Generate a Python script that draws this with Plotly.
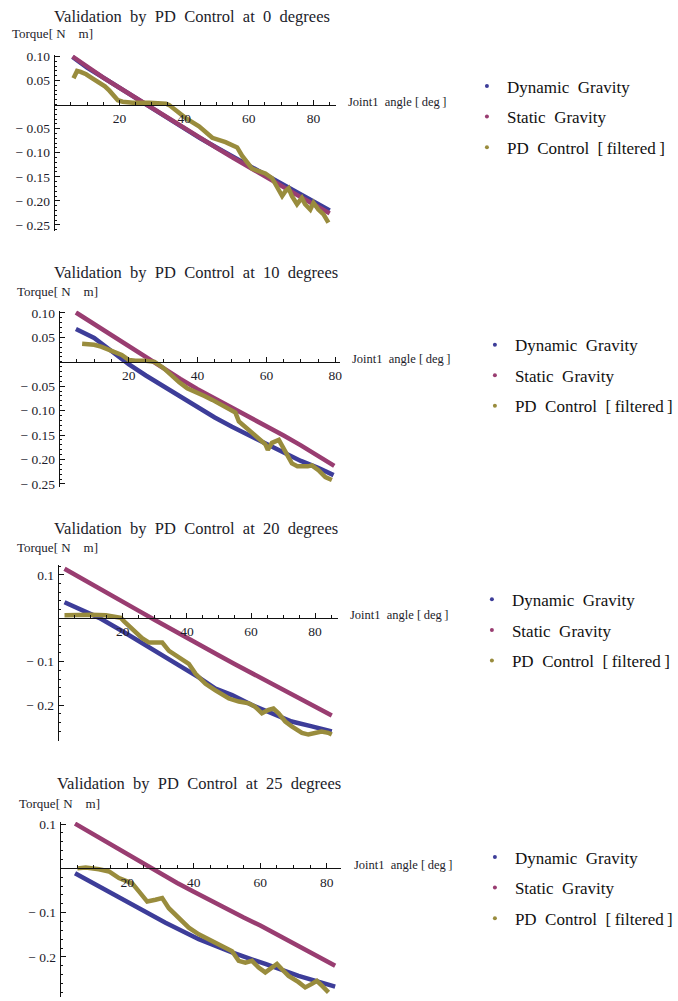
import plotly.graph_objects as go

# ---------------- data ----------------
names = ["Dynamic  Gravity", "Static  Gravity", "PD  Control  [\u2009filtered\u2009]"]
titles = ["Validation  by  PD  Control  at  0  degrees",
          "Validation  by  PD  Control  at  10  degrees",
          "Validation  by  PD  Control  at  20  degrees",
          "Validation  by  PD  Control  at  25  degrees"]

x_ticks = [20, 40, 60, 80]
x_ticktext = ["20", "40", "60", "80"]
y_ticks_a = [0.10, 0.05, -0.05, -0.10, -0.15, -0.20, -0.25]
y_ticktext_a = ["0.10", "0.05", "\u2212\u00a00.05", "\u2212\u00a00.10", "\u2212\u00a00.15", "\u2212\u00a00.20", "\u2212\u00a00.25"]
y_ticks_b = [0.1, -0.1, -0.2]
y_ticktext_b = ["0.1", "\u2212\u00a00.1", "\u2212\u00a00.2"]

# Panel 1 (0 degrees)
x1_dyn = [5.5, 10, 15, 20, 25, 30, 35, 40, 45, 50, 55, 60, 65, 70, 75, 80, 85]
y1_dyn = [0.099, 0.077, 0.056, 0.035, 0.013, -0.008, -0.029, -0.050, -0.070, -0.089, -0.108, -0.127, -0.146, -0.165, -0.183, -0.201, -0.220]
x1_sta = [5.5, 10, 15, 20, 25, 30, 35, 40, 45, 50, 55, 60, 65, 70, 75, 80, 85]
y1_sta = [0.100, 0.078, 0.056, 0.035, 0.014, -0.008, -0.028, -0.049, -0.070, -0.090, -0.110, -0.130, -0.149, -0.169, -0.188, -0.207, -0.226]
x1_pd = [5.8, 6.9, 8, 9.7, 11.5, 13.8, 15.5, 16.9, 18.2, 19.5, 21, 24.1, 29.2, 32, 34.4, 35.4, 38, 40.5, 44.6, 48.7,
         52.8, 56.4, 57.9, 59.5, 61, 63, 65.1, 67.2, 68.7, 70.3, 71.3, 72.3, 73.3, 74.9, 76.4, 77.4, 79, 80, 81.5, 83.1, 84.6]
y1_pd = [0.055, 0.070, 0.068, 0.063, 0.055, 0.046, 0.038, 0.029, 0.018, 0.009, 0.006, 0.004, 0.004, 0.003, 0.002, -0.001, -0.015, -0.028, -0.045, -0.069,
         -0.078, -0.089, -0.106, -0.120, -0.133, -0.138, -0.143, -0.153, -0.170, -0.190, -0.180, -0.174, -0.190, -0.207, -0.194, -0.207, -0.218, -0.204, -0.218, -0.228, -0.245]

# Panel 2 (10 degrees)
x2_dyn = [4.7, 7.5, 10, 15, 20, 25, 30, 35, 40, 45, 50, 55, 60, 65, 70, 75, 79.5]
y2_dyn = [0.067, 0.058, 0.049, 0.022, -0.005, -0.028, -0.050, -0.072, -0.094, -0.114, -0.133, -0.150, -0.167, -0.186, -0.203, -0.217, -0.232]
x2_sta = [4.7, 10, 15, 20, 25, 30, 35, 40, 45, 50, 55, 60, 65, 70, 75, 79.7]
y2_sta = [0.101, 0.077, 0.055, 0.034, 0.011, -0.012, -0.035, -0.056, -0.075, -0.093, -0.111, -0.131, -0.151, -0.171, -0.192, -0.213]
x2_pd = [6.5, 8, 10, 12, 14, 16, 18, 20, 22, 25, 27.5, 30, 32, 34.7, 37, 40, 42, 44.3, 47, 49, 51, 52, 53, 55, 57.5,
         59.7, 60.4, 61.6, 63.6, 65.5, 67.4, 69, 70.3, 72, 73.2, 75.1, 77.1, 78, 79]
y2_pd = [0.037, 0.036, 0.035, 0.031, 0.025, 0.020, 0.014, 0.004, 0.002, 0.002, 0.000, -0.012, -0.025, -0.042, -0.054, -0.065, -0.070, -0.078, -0.088, -0.096, -0.104, -0.122, -0.128, -0.142, -0.155,
         -0.169, -0.180, -0.166, -0.160, -0.183, -0.208, -0.214, -0.215, -0.214, -0.212, -0.222, -0.236, -0.238, -0.242]

# Panel 3 (20 degrees)
x3_dyn = [1.8, 8.5, 12.6, 19.9, 28.2, 36.5, 43.7, 48.9, 54.1, 60.3, 66.5, 72.7, 79, 85.2]
y3_dyn = [0.037, 0.016, 0.001, -0.030, -0.067, -0.102, -0.136, -0.162, -0.177, -0.200, -0.219, -0.238, -0.249, -0.261]
x3_sta = [1.8, 5, 10, 15, 20, 25, 30, 35, 40, 45, 50, 55, 60, 65, 70, 75, 80, 85.2]
y3_sta = [0.114, 0.101, 0.080, 0.059, 0.038, 0.017, -0.004, -0.025, -0.045, -0.066, -0.086, -0.106, -0.126, -0.146, -0.166, -0.185, -0.205, -0.224]
x3_pd = [1.8, 6.4, 10, 14.7, 19.4, 20.4, 22, 24, 26, 28.2, 30, 32.3, 34.4, 37.5, 40.6, 42.7, 45.8, 48.9, 51, 53.1, 56.2, 59.3,
         61.3, 63.4, 65.5, 67, 68.6, 70.7, 72.7, 75.9, 77.9, 80, 82, 84.1, 85.2]
y3_pd = [0.007, 0.008, 0.008, 0.007, 0.001, -0.007, -0.018, -0.033, -0.046, -0.056, -0.056, -0.056, -0.075, -0.090, -0.105, -0.128, -0.151, -0.166, -0.176, -0.185, -0.192, -0.196,
         -0.204, -0.219, -0.211, -0.208, -0.219, -0.238, -0.249, -0.264, -0.268, -0.264, -0.261, -0.264, -0.268]

# Panel 4 (25 degrees)
x4_dyn = [4.3, 11.5, 21.5, 31.5, 41.5, 51.5, 61.5, 71.5, 82.5]
y4_dyn = [-0.011, -0.041, -0.082, -0.123, -0.160, -0.190, -0.216, -0.243, -0.267]
x4_sta = [4.3, 10, 15, 20, 25, 30, 35, 40, 45, 50, 55, 60, 65, 70, 75, 80, 82.5]
y4_sta = [0.101, 0.076, 0.053, 0.031, 0.009, -0.012, -0.033, -0.053, -0.073, -0.092, -0.111, -0.129, -0.149, -0.169, -0.189, -0.209, -0.220]
x4_pd = [5, 7.5, 11.5, 14.5, 17.5, 21.5, 23.5, 26, 28.5, 30.5, 32.5, 35.5, 38.5, 41.5, 43.5, 46.5, 49.5, 51.5, 53.5, 55.5, 57.5,
         59.5, 61.5, 63.5, 65, 66.5, 68.5, 71.5, 73.5, 75.5, 77, 78.5, 80.5]
y4_pd = [0.000, 0.002, -0.002, -0.007, -0.022, -0.034, -0.052, -0.075, -0.071, -0.067, -0.090, -0.112, -0.134, -0.149, -0.157, -0.168, -0.179, -0.187, -0.209, -0.213, -0.209,
         -0.224, -0.235, -0.224, -0.216, -0.228, -0.243, -0.257, -0.269, -0.261, -0.254, -0.265, -0.280]

series = [
    [(x1_dyn, y1_dyn), (x1_sta, y1_sta), (x1_pd, y1_pd)],
    [(x2_dyn, y2_dyn), (x2_sta, y2_sta), (x2_pd, y2_pd)],
    [(x3_dyn, y3_dyn), (x3_sta, y3_sta), (x3_pd, y3_pd)],
    [(x4_dyn, y4_dyn), (x4_sta, y4_sta), (x4_pd, y4_pd)],
]

# ---------------- styling / geometry ----------------
W, H = 678, 1001
colors = ["#3D3D99", "#993D71", "#998C3D"]
FONT = "Liberation Serif, Times New Roman, serif"
TXT = "#1c1c2a"

geo = [
    dict(px0=55, px1=337, xmax=86.8, pyt=50, pyb=228, yr=(-0.2625, 0.104), yt=0, ydt=0.01,
         tcx=192.5, tcy=12, ylx=10, yly=29, xlx=348, xldy=-3, lgx=469, lgy=64),
    dict(px0=60, px1=342, xmax=81.5, pyt=308.3, pyb=486.7, yr=(-0.257, 0.105), yt=0, ydt=0.01,
         tcx=196.5, tcy=270, ylx=15, yly=289, xlx=352, xldy=-3, lgx=477, lgy=325),
    dict(px0=59, px1=340, xmax=87.3, pyt=565, pyb=742.3, yr=(-0.282, 0.123), yt=1, ydt=0.02,
         tcx=196.5, tcy=528, ylx=15, yly=547, xlx=350, xldy=-3, lgx=474, lgy=582),
    dict(px0=61, px1=343, xmax=84.4, pyt=824.3, pyb=1001, yr=(-0.2906, 0.105), yt=1, ydt=0.02,
         tcx=200, tcy=786, ylx=16.7, yly=805.5, xlx=354, xldy=-3, lgx=477, lgy=842),
]

fig = go.Figure()
annotations = []
layout = dict(
    width=W, height=H, margin=dict(l=0, r=0, t=0, b=0),
    paper_bgcolor="white", plot_bgcolor="white", showlegend=True,
    font=dict(family=FONT, color=TXT),
)

for i, (g, ser) in enumerate(zip(geo, series)):
    k = "" if i == 0 else str(i + 1)
    xa, ya = "x" + k, "y" + k
    lg = "legend" + k
    for j, (xs, ys) in enumerate(ser):
        fig.add_trace(go.Scatter(x=xs, y=ys, mode="lines", xaxis=xa, yaxis=ya,
                                 line=dict(color=colors[j], width=4.5),
                                 showlegend=False, hoverinfo="skip"))
    for j in range(3):
        fig.add_trace(go.Scatter(x=[None], y=[None], mode="markers", xaxis=xa, yaxis=ya,
                                 marker=dict(color=colors[j], size=4), name=names[j],
                                 legend=lg, legendgroup=f"g{i}{j}", showlegend=True))
    ydom = [1 - g["pyb"] / H, 1 - g["pyt"] / H]
    xdom = [g["px0"] / W, g["px1"] / W]
    y0, y1 = g["yr"]
    xpos = ydom[0] + (0 - y0) / (y1 - y0) * (ydom[1] - ydom[0])
    layout["xaxis" + k] = dict(
        domain=xdom, range=[0, g["xmax"]], anchor="free", position=xpos,
        showline=True, linecolor="#111", linewidth=1, showgrid=False, zeroline=False,
        ticks="inside", ticklen=5, tickcolor="#111", tickwidth=1,
        tickmode="array", tickvals=x_ticks, ticktext=x_ticktext,
        tickfont=dict(family=FONT, size=13.5, color=TXT), ticklabelstandoff=1,
        minor=dict(ticks="inside", ticklen=3, tickcolor="#111", tickmode="linear", tick0=0, dtick=5),
        fixedrange=True,
    )
    tv, tt = (y_ticks_a, y_ticktext_a) if g["yt"] == 0 else (y_ticks_b, y_ticktext_b)
    layout["yaxis" + k] = dict(
        domain=ydom, range=[y0, y1], anchor=xa,
        showline=True, linecolor="#111", linewidth=1, showgrid=False, zeroline=False,
        ticks="inside", ticklen=5, tickcolor="#111", tickwidth=1,
        tickmode="array", tickvals=tv, ticktext=tt,
        tickfont=dict(family=FONT, size=13.5, color=TXT), ticklabelstandoff=1,
        minor=dict(ticks="inside", ticklen=2.5, tickcolor="#111", tickmode="linear", tick0=0, dtick=g["ydt"]),
        fixedrange=True,
    )
    layout[lg] = dict(
        x=g["lgx"] / W, y=1 - g["lgy"] / H, xanchor="left", yanchor="top",
        font=dict(family=FONT, size=17, color="#111"), bgcolor="rgba(0,0,0,0)",
        traceorder="grouped", tracegroupgap=5.5, itemwidth=30, itemsizing="trace",
    )
    annotations.append(dict(text=titles[i], x=g["tcx"] / W, y=1 - g["tcy"] / H, xref="paper", yref="paper",
                            xanchor="center", yanchor="middle", showarrow=False,
                            font=dict(family=FONT, size=16.5, color=TXT)))
    annotations.append(dict(text="Torque[ N\u2003m]", x=g["ylx"] / W, y=1 - g["yly"] / H, xref="paper", yref="paper",
                            xanchor="left", yanchor="middle", showarrow=False,
                            font=dict(family=FONT, size=13, color=TXT)))
    zero_px = g["pyt"] + (y1 - 0) / (y1 - y0) * (g["pyb"] - g["pyt"])
    annotations.append(dict(text="Joint1\u00a0 angle [\u2009deg\u2009]", x=g["xlx"] / W, y=1 - (zero_px + g["xldy"]) / H,
                            xref="paper", yref="paper", xanchor="left", yanchor="middle", showarrow=False,
                            font=dict(family=FONT, size=12.5, color=TXT)))

layout["annotations"] = annotations
fig.update_layout(**layout)
fig.write_html("out.html")
